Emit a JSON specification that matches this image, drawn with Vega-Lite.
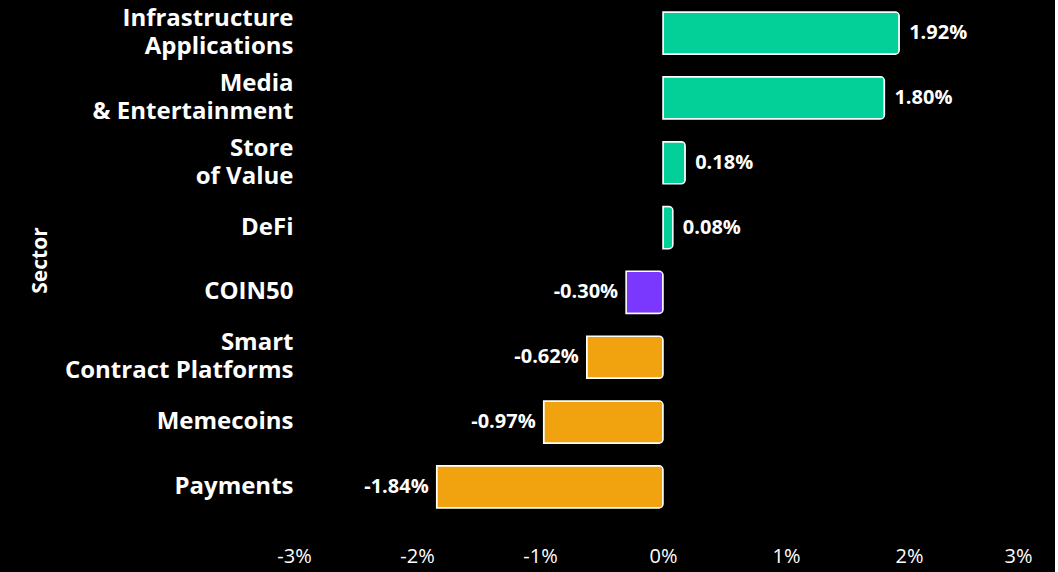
{
  "$schema": "https://vega.github.io/schema/vega-lite/v6.json",
  "autosize": {"type": "fit", "contains": "padding"},
  "width": 1055,
  "height": 572,
  "padding": {"left": 29, "top": 0, "right": 23, "bottom": 6},
  "background": "#000000",
  "config": {
    "view": {"stroke": null},
    "font": "Open Sans"
  },
  "data": {
    "values": [
      {"sector": "Infrastructure|Applications", "value": 1.92, "label": "1.92%", "group": "Sector up"},
      {"sector": "Media|& Entertainment", "value": 1.80, "label": "1.80%", "group": "Sector up"},
      {"sector": "Store|of Value", "value": 0.18, "label": "0.18%", "group": "Sector up"},
      {"sector": "DeFi", "value": 0.08, "label": "0.08%", "group": "Sector up"},
      {"sector": "COIN50", "value": -0.30, "label": "-0.30%", "group": "Index"},
      {"sector": "Smart|Contract Platforms", "value": -0.62, "label": "-0.62%", "group": "Sector down"},
      {"sector": "Memecoins", "value": -0.97, "label": "-0.97%", "group": "Sector down"},
      {"sector": "Payments", "value": -1.84, "label": "-1.84%", "group": "Sector down"}
    ]
  },
  "encoding": {
    "y": {
      "field": "sector",
      "type": "nominal",
      "sort": null,
      "title": "Sector",
      "scale": {"paddingInner": 0.35, "paddingOuter": 0.185},
      "axis": {
        "labelExpr": "split(datum.label, '|')",
        "labelFont": "Open Sans",
        "labelFontWeight": "bold",
        "labelFontSize": 24,
        "labelColor": "#ffffff",
        "labelLineHeight": 28,
        "labelPadding": 1,
        "labelLimit": 400,
        "labelOffset": {"condition": {"test": "indexof(datum.label, '|') >= 0", "value": -14}, "value": 0},
        "ticks": false,
        "domain": false,
        "grid": false,
        "titleFont": "Open Sans",
        "titleFontWeight": "bold",
        "titleFontSize": 21,
        "titleColor": "#ffffff",
        "titlePadding": 44
      }
    },
    "x": {
      "field": "value",
      "type": "quantitative",
      "title": null,
      "scale": {"domain": [-3, 3], "nice": false, "zero": false},
      "axis": {
        "values": [-3, -2, -1, 0, 1, 2, 3],
        "labelExpr": "datum.value + '%'",
        "labelFont": "Open Sans",
        "labelFontSize": 20,
        "labelColor": "#ffffff",
        "labelPadding": 26,
        "labelFlush": false,
        "labelAlign": {"condition": {"test": "datum.value == 3", "value": "right"}, "value": "center"},
        "ticks": false,
        "domain": false,
        "grid": false
      }
    }
  },
  "layer": [
    {
      "mark": {"type": "bar", "stroke": "#ffffff", "strokeWidth": 1.5, "cornerRadiusEnd": 4},
      "encoding": {
        "color": {
          "field": "group",
          "type": "nominal",
          "scale": {"domain": ["Sector up", "Index", "Sector down"], "range": ["#03CF98", "#7A38FF", "#F0A20F"]},
          "legend": null
        }
      }
    },
    {
      "mark": {
        "type": "text",
        "font": "Open Sans",
        "fontWeight": "bold",
        "fontSize": 20,
        "color": "#ffffff",
        "align": {"expr": "datum.value < 0 ? 'right' : 'left'"},
        "dx": {"expr": "datum.value < 0 ? -8 : 10"},
        "baseline": "middle"
      },
      "encoding": {
        "text": {"field": "label", "type": "nominal"}
      }
    }
  ]
}
